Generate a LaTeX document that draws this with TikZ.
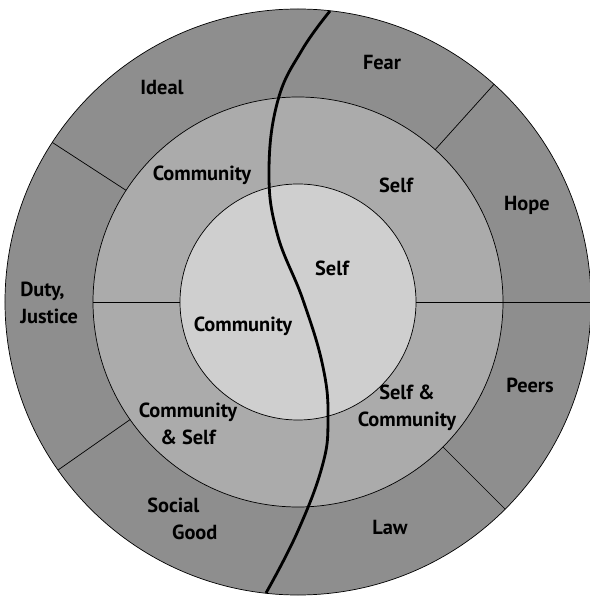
\documentclass[tikz,border=0pt]{standalone}
\usepackage{fontspec}
\setmainfont{PT Sans}
\usetikzlibrary{positioning}
\definecolor{outergray}{HTML}{8E8E8E}
\definecolor{midgray}{HTML}{ABABAB}
\definecolor{innergray}{HTML}{CFCFCF}
\tikzset{
  ringlabel/.style={font=\fontsize{14.5}{19.5}\selectfont\bfseries, align=center, inner sep=0pt},
  divider/.style={draw=black, line width=0.5pt},
}

\begin{document}
\begin{tikzpicture}[x=0.025cm, y=0.025cm]
\useasboundingbox (-298,-295) rectangle (292,302);
% three rings
\filldraw[fill=outergray, divider] (0,0) circle[radius=293];
\filldraw[fill=midgray, divider] (0,0) circle[radius=205];
\filldraw[fill=innergray, divider] (0,0) circle[radius=118];
% sector borders
\draw[divider] (147:205) -- (147:293);
\draw[divider] (48:205) -- (48:293);
\draw[divider] (-45:205) -- (-45:293);
\draw[divider] (215:205) -- (215:293);
\draw[divider] (0:118) -- (0:293);
\draw[divider] (180:118) -- (180:205);
% dividing curve
\draw[line width=2pt] plot[smooth, tension=0.7] coordinates {(32,291) (4,252) (-20,202) (-29,132) (-21,69) (5,2) (25,-65) (30,-118) (24,-165) (-1,-231) (-32,-291)};
% outer ring
\node[ringlabel] (ideal) at (-136,214) {Ideal};
\node[ringlabel] (fear) at (84,239) {Fear};
\node[ringlabel] (hope) at (229,97) {Hope};
\node[ringlabel] (peers) at (232,-83) {Peers};
\node[ringlabel] (law) at (92,-225) {Law};
\node[ringlabel, align=left, anchor=west] (duty) at (-278,-1) {Duty,\\Justice};
\node[ringlabel, align=left, anchor=west] (social) at (-151,-217) {Social\\\hspace*{0.62cm}Good};
% middle ring
\node[ringlabel] (midcomm) at (-96,127) {Community};
\node[ringlabel] (midself) at (98,117) {Self};
\node[ringlabel] (selfcomm) at (109,-106) {Self \&\\Community};
\node[ringlabel] (commself) at (-110,-122) {Community\\\& Self};
% inner circle
\node[ringlabel] (innerself) at (34,34) {Self};
\node[ringlabel] (innercomm) at (-55,-24) {Community};
\end{tikzpicture}
\end{document}
